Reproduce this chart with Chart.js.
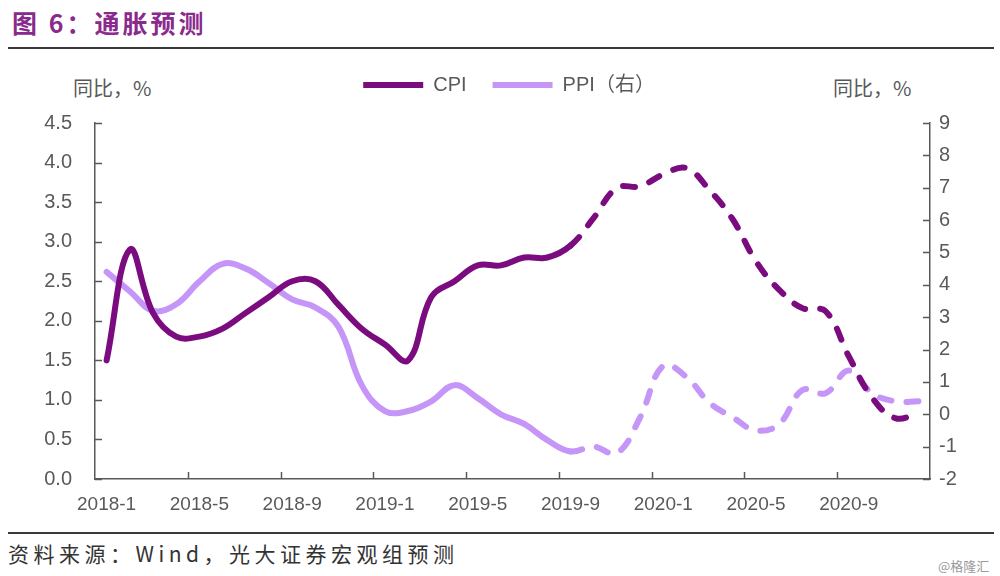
<!DOCTYPE html>
<html lang="zh-CN">
<head>
<meta charset="UTF-8">
<title>通胀预测</title>
<script src="https://cdn.jsdelivr.net/npm/chart.js"></script>
<style>
  body { margin: 0; width: 1000px; height: 576px; background: #fff; position: relative; overflow: hidden; font-family: "Liberation Sans", Arial, sans-serif; }
  .abs { position: absolute; white-space: nowrap; }
  #title { left: 12px; top: 4px; font: bold 25px "Noto Sans CJK SC", sans-serif; color: #8a2a8c; letter-spacing: 3px; }
  .rule { position: absolute; left: 8px; width: 986px; height: 2px; background: #3a3a3a; }
  .unit { top: 73px; font-size: 20px; color: #595959; font-family: "Noto Sans CJK SC", sans-serif; }
  #source { left: 8px; top: 538px; font: 21px "Noto Sans CJK SC", sans-serif; color: #333; letter-spacing: 4.5px; }
  #mark { left: 938px; top: 556px; font: 13px "Noto Sans CJK SC", sans-serif; color: #9a9a9a; }
  #wrap { position: absolute; left: 0; top: 0; }
</style>
</head>
<body>
<div id="title" class="abs">图 6：通胀预测</div>
<div class="rule" style="top:47px"></div>
<div class="abs unit" style="left:73px">同比，%</div>
<div class="abs unit" style="left:833px">同比，%</div>
<div id="wrap"><canvas id="grafico" width="1000" height="525"></canvas></div>
<div class="rule" style="top:532px"></div>
<div id="source" class="abs">资料来源：Wind，光大证券宏观组预测</div>
<div id="mark" class="abs">@格隆汇</div>

<script>
const meses = ['2018-1','2018-2','2018-3','2018-4','2018-5','2018-6','2018-7','2018-8','2018-9','2018-10','2018-11','2018-12',
               '2019-1','2019-2','2019-3','2019-4','2019-5','2019-6','2019-7','2019-8','2019-9','2019-10','2019-11','2019-12',
               '2020-1','2020-2','2020-3','2020-4','2020-5','2020-6','2020-7','2020-8','2020-9','2020-10','2020-11','2020-12'];
const cpi = [1.5, 2.9, 2.1, 1.8, 1.8, 1.9, 2.1, 2.3, 2.5, 2.5, 2.2, 1.9,
             1.7, 1.5, 2.3, 2.5, 2.7, 2.7, 2.8, 2.8, 2.95, 3.3, 3.68, 3.7,
             3.85, 3.93, 3.65, 3.28, 2.75, 2.39, 2.16, 2.12, 1.55, 1.03, 0.77, 0.83];
const ppi = [4.4, 3.8, 3.2, 3.4, 4.1, 4.65, 4.5, 4.05, 3.55, 3.3, 2.7, 0.9,
             0.1, 0.1, 0.4, 0.9, 0.5, 0.0, -0.3, -0.8, -1.15, -1.0, -1.2, -0.1,
             1.5, 1.15, 0.35, -0.1, -0.5, -0.3, 0.75, 0.65, 1.35, 0.65, 0.4, 0.4];
const inicioPrevisao = 20; // 2019-9: a partir daqui é previsão (tracejado)

const corCPI = '#7b0c80';
const corPPI = '#c595f7';
const corEixo = '#595959';

Chart.defaults.font.family = '"Liberation Sans", Arial, sans-serif';
Chart.defaults.color = corEixo;

const tracejado = ctx => ctx.p0DataIndex >= inicioPrevisao ? [12, 15] : undefined;

// espaço extra abaixo da legenda, antes da área do gráfico
const folgaLegenda = {
  id: 'folgaLegenda',
  beforeLayout(chart) {
    const leg = chart.legend;
    if (!leg || leg._comFolga) return;
    const fitOriginal = leg.fit;
    leg.fit = function () { fitOriginal.call(this); this.height += 18; };
    leg._comFolga = true;
  }
};

// marcas dos eixos voltadas para dentro
const marcasInternas = {
  id: 'marcasInternas',
  afterDraw(chart) {
    const { ctx, chartArea: a, scales: { x, y, y1 } } = chart;
    const passo = x.getPixelForValue(1) - x.getPixelForValue(0);
    ctx.save();
    ctx.strokeStyle = corEixo;
    ctx.lineWidth = 1.5;
    ctx.beginPath();
    y.ticks.forEach(t => {
      const py = Math.round(y.getPixelForValue(t.value)) + 0.5;
      ctx.moveTo(a.left, py); ctx.lineTo(a.left + 7, py);
    });
    y1.ticks.forEach(t => {
      const py = Math.round(y1.getPixelForValue(t.value)) + 0.5;
      ctx.moveTo(a.right, py); ctx.lineTo(a.right - 7, py);
    });
    for (let i = 4; i < meses.length; i += 4) {
      const px = Math.round(x.getPixelForValue(i) - passo / 2) + 0.5;
      ctx.moveTo(px, a.bottom); ctx.lineTo(px, a.bottom - 7);
    }
    ctx.stroke();
    ctx.restore();
  }
};

new Chart(document.getElementById('grafico'), {
  type: 'line',
  data: {
    labels: meses,
    datasets: [
      { label: 'CPI', data: cpi, yAxisID: 'y', borderColor: corCPI, backgroundColor: corCPI,
        borderWidth: 6, borderCapStyle: 'round', pointRadius: 0, tension: 0.4,
        segment: { borderDash: tracejado } },
      { label: 'PPI（右）', data: ppi, yAxisID: 'y1', borderColor: corPPI, backgroundColor: corPPI,
        borderWidth: 6, borderCapStyle: 'round', pointRadius: 0, tension: 0.4,
        segment: { borderDash: tracejado } }
    ]
  },
  options: {
    responsive: false,
    animation: false,
    layout: { padding: { top: 49, left: 18, right: 0, bottom: 0 } },
    plugins: {
      tooltip: { enabled: false },
      legend: {
        position: 'top',
        labels: {
          usePointStyle: true, pointStyle: 'line', pointStyleWidth: 60,
          padding: 26, color: corEixo, font: { size: 20 }
        }
      }
    },
    scales: {
      x: {
        offset: true,
        grid: { drawOnChartArea: false, drawTicks: false, offset: true },
        border: { display: true, color: corEixo, width: 1.5 },
        ticks: {
          autoSkip: false, maxRotation: 0, padding: 14, font: { size: 19 }, color: corEixo,
          callback: (v, i) => i % 4 === 0 ? meses[i] : ''
        },
        afterFit: s => { s.height = 46; }
      },
      y: {
        position: 'left', min: 0, max: 4.5,
        grid: { drawOnChartArea: false, drawTicks: false },
        border: { display: true, color: corEixo, width: 1.5 },
        ticks: { stepSize: 0.5, padding: 23, font: { size: 20 }, color: corEixo, callback: v => v.toFixed(1) },
        afterFit: s => { s.width = 77; }
      },
      y1: {
        position: 'right', min: -2, max: 9,
        grid: { drawOnChartArea: false, drawTicks: false },
        border: { display: true, color: corEixo, width: 1.5 },
        ticks: { stepSize: 1, padding: 9, font: { size: 20 }, color: corEixo },
        afterFit: s => { s.width = 70; }
      }
    }
  },
  plugins: [folgaLegenda, marcasInternas]
});
</script>
</body>
</html>
